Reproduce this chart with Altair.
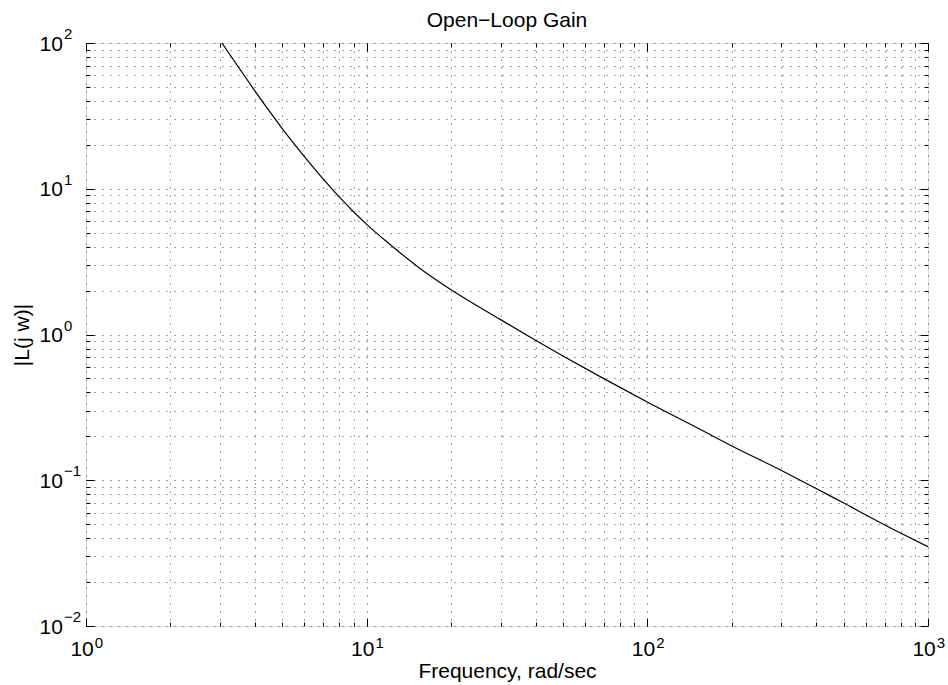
import altair as alt
import pandas as pd

# Data (frequency in rad/sec, |L(jw)|)
freq = [3.05, 3.95, 4.53, 4.98, 5.41, 5.95, 7.01, 7.97, 8.96, 10.0, 11.79,
        13.15, 15.49, 19.3, 29.9, 39.8, 50.2, 69.7, 99.5, 154.0, 200.0,
        297.0, 401.0, 499.0, 795.0, 1000.0]
gain = [100.0, 48.5, 33.5, 26.2, 21.3, 16.95, 11.63, 8.82, 6.98, 5.7, 4.33,
        3.64, 2.84, 2.12, 1.27, 0.917, 0.71, 0.50, 0.346, 0.224, 0.172,
        0.118, 0.0875, 0.0700, 0.0436, 0.035]

x_major = [1, 10, 100, 1000]
y_major = [0.01, 0.1, 1, 10, 100]
minor_mult = [2, 3, 4, 5, 6, 7, 8, 9]
x_all = sorted(x_major + [m * d for d in [1, 10, 100] for m in minor_mult])
y_all = sorted(y_major + [round(m * d, 6) for d in [0.01, 0.1, 1, 10] for m in minor_mult])

title_text = "Open\u2212Loop Gain"
x_title = "Frequency, rad/sec"
y_title = "|L(j w)|"

FONT = "Liberation Sans"
df = pd.DataFrame({"freq": freq, "gain": gain})

is_major = "abs(log(datum.value)/LN10 - round(log(datum.value)/LN10)) < 1e-6"
base_expr = "(" + is_major + ") ? '10' : ''"
exp_expr = "format(round(log(datum.value)/LN10), 'd')"

xscale = alt.Scale(type="log", domain=[1, 1000], nice=False)
yscale = alt.Scale(type="log", domain=[0.01, 100], nice=False)

tick_dash = {"condition": {"test": is_major, "value": []}, "value": [0, 4, 4, 8]}

def tick_axis(orient, values):
    return alt.Axis(orient=orient, values=values, labels=False, domain=False, grid=False,
                    ticks=True, tickSize=8, offset=-8, tickColor="black", tickWidth=1,
                    tickDash=tick_dash)

grid_kw = dict(grid=True, gridDash=[1, 7], gridColor="#444", gridWidth=1)
lab_kw = dict(labelFont=FONT, labelColor="black", labelOverlap=False, labelFlush=False,
              ticks=False, tickSize=0, domain=False)
ttl_kw = dict(titleFont=FONT, titleFontSize=21, titleFontWeight="normal", titleColor="black")

main = alt.Chart(df).mark_line(color="black", strokeWidth=1.2, clip=True,
                               interpolate="monotone").encode(
    x=alt.X("freq:Q", scale=xscale,
            axis=alt.Axis(orient="bottom", values=x_all, labelExpr=base_expr,
                          labelFontSize=21, labelAlign="center", labelOffset=-4.4,
                          labelBaseline="alphabetic", labelPadding=29,
                          title=x_title, titleX=421, titleY=51,
                          titleBaseline="alphabetic", titleAlign="center",
                          **grid_kw, **lab_kw, **ttl_kw)),
    y=alt.Y("gain:Q", scale=yscale,
            axis=alt.Axis(orient="left", values=y_all, labelExpr=base_expr,
                          labelFontSize=21, labelAlign="left", labelBaseline="alphabetic",
                          labelPadding=47, labelOffset=7,
                          title=y_title, titleAngle=270, titleX=-64, titleY=291.5,
                          titleBaseline="middle", titleAlign="center",
                          **grid_kw, **lab_kw, **ttl_kw)),
)

exps = alt.Chart(df).mark_line(strokeOpacity=0).encode(
    x=alt.X("freq:Q", scale=xscale, title=None,
            axis=alt.Axis(orient="bottom", values=x_major, labelExpr=exp_expr,
                          labelFontSize=15, labelAlign="left", labelOffset=8.3,
                          labelBaseline="alphabetic", labelPadding=21, grid=False,
                          **lab_kw)),
    y=alt.Y("gain:Q", scale=yscale, title=None,
            axis=alt.Axis(orient="left", values=y_major, labelExpr=exp_expr,
                          labelFontSize=15, labelAlign="left", labelOffset=-4.5,
                          labelBaseline="alphabetic", labelPadding=22.5, grid=False,
                          **lab_kw)),
)

ticks_bl = alt.Chart(df).mark_line(strokeOpacity=0).encode(
    x=alt.X("freq:Q", scale=xscale, axis=tick_axis("bottom", x_all), title=None),
    y=alt.Y("gain:Q", scale=yscale, axis=tick_axis("left", y_all), title=None),
)
ticks_tr = alt.Chart(df).mark_line(strokeOpacity=0).encode(
    x=alt.X("freq:Q", scale=xscale, axis=tick_axis("top", x_all), title=None),
    y=alt.Y("gain:Q", scale=yscale, axis=tick_axis("right", y_all), title=None),
)

chart = alt.layer(main, exps, ticks_bl, ticks_tr).resolve_axis(
    x="independent", y="independent"
).properties(
    width=842, height=583,
    autosize=alt.AutoSizeParams(type="none"),
    padding={"left": 86, "top": 43, "right": 20, "bottom": 59},
    title=alt.TitleParams(title_text, font=FONT, fontSize=21, fontWeight="normal",
                          color="black", anchor="middle", frame="group",
                          baseline="alphabetic", offset=14, dy=35),
).configure_view(
    stroke="black", strokeWidth=1.5
).configure(background="white")

chart.save("out.html", embed_options={"renderer": "svg", "actions": False})
